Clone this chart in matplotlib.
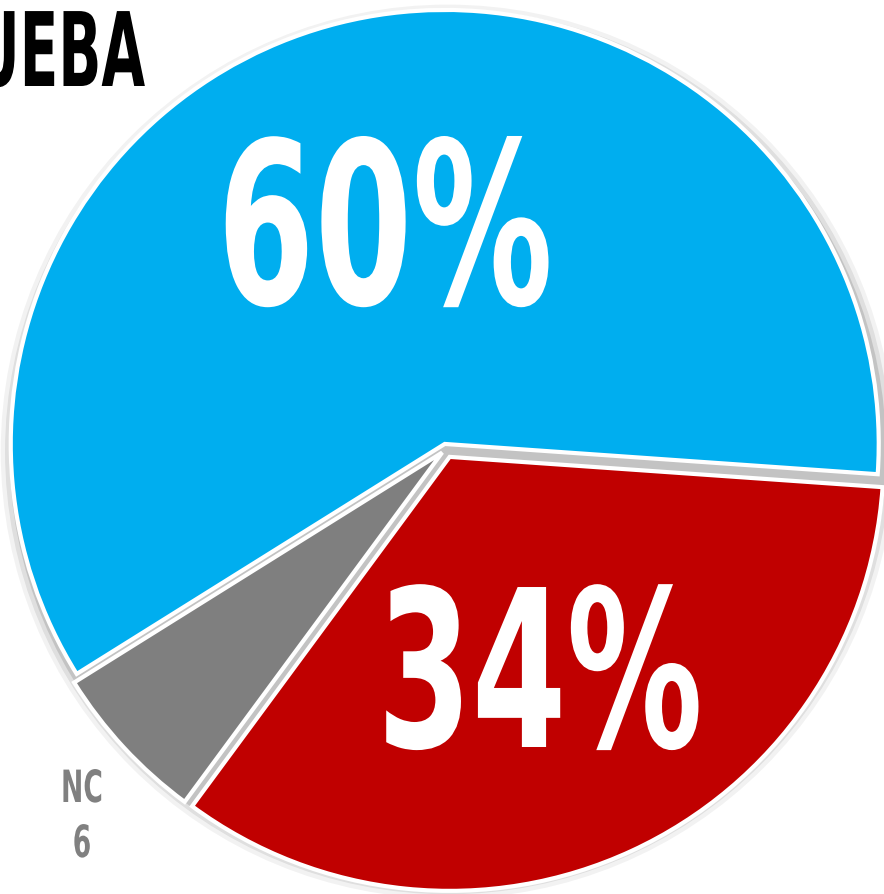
import matplotlib.pyplot as plt
import matplotlib.patheffects as pe
from matplotlib.transforms import Affine2D

# data
labels = ['Sí', 'NC', 'No']
values = [60, 6, 34]
colors = ['#00AEEF', '#7F7F7F', '#C00000']
pct_labels = ['60%', '', '34%']
title = 'PRUEBA'

W, H = 884, 895


class Squeeze(pe.AbstractPathEffect):
    # narrows the glyphs horizontally around pixel column cx (condensed look)
    def __init__(self, sx, cx):
        super().__init__()
        self.sx, self.cx = sx, cx

    def draw_path(self, renderer, gc, tpath, affine, rgbFace=None):
        t = affine + Affine2D().translate(-self.cx, 0).scale(self.sx, 1).translate(self.cx, 0)
        renderer.draw_path(gc, tpath, t, rgbFace)


def ptext(x, y, s, size, color, sx, ha='center'):
    # x, y in pixels from the top-left, y is the baseline
    fig.text(x / W, 1 - y / H, s, color=color, fontsize=size, fontweight='bold',
             ha=ha, va='baseline', path_effects=[Squeeze(sx, x)])


fig = plt.figure(figsize=(W / 100, H / 100), dpi=100)
ax = fig.add_axes([0, 0, 1, 1])

# pie centre at pixel (446, 450), radius 434 px
r_px = 434

# soft shadow ring behind the pie
for k, a in zip([1.03, 1.02, 1.01], [0.05, 0.08, 0.12]):
    ax.add_patch(plt.Circle((0.004, -0.006), k, color='black', alpha=a, lw=0, zorder=0))

wedges, _ = ax.pie(values, colors=colors, startangle=-4, counterclock=True,
                   explode=[0.012, 0.012, 0.02], radius=1.0,
                   wedgeprops=dict(edgecolor='white', linewidth=3),
                   frame=True)
ax.set_xlim(-446 / r_px, (W - 446) / r_px)
ax.set_ylim(-(H - 450) / r_px, 450 / r_px)
ax.set_aspect('auto')
ax.axis('off')

ptext(385, 305, pct_labels[0], 163, 'white', 0.62)
ptext(540, 748, pct_labels[2], 158, 'white', 0.62)
ptext(82, 803, labels[1], 32, '#808080', 0.6)
ptext(82, 858, str(values[1]), 32, '#808080', 0.6)
ptext(145, 87, title, 74, 'black', 0.55, ha='right')

fig.savefig('out.png', dpi=100)
